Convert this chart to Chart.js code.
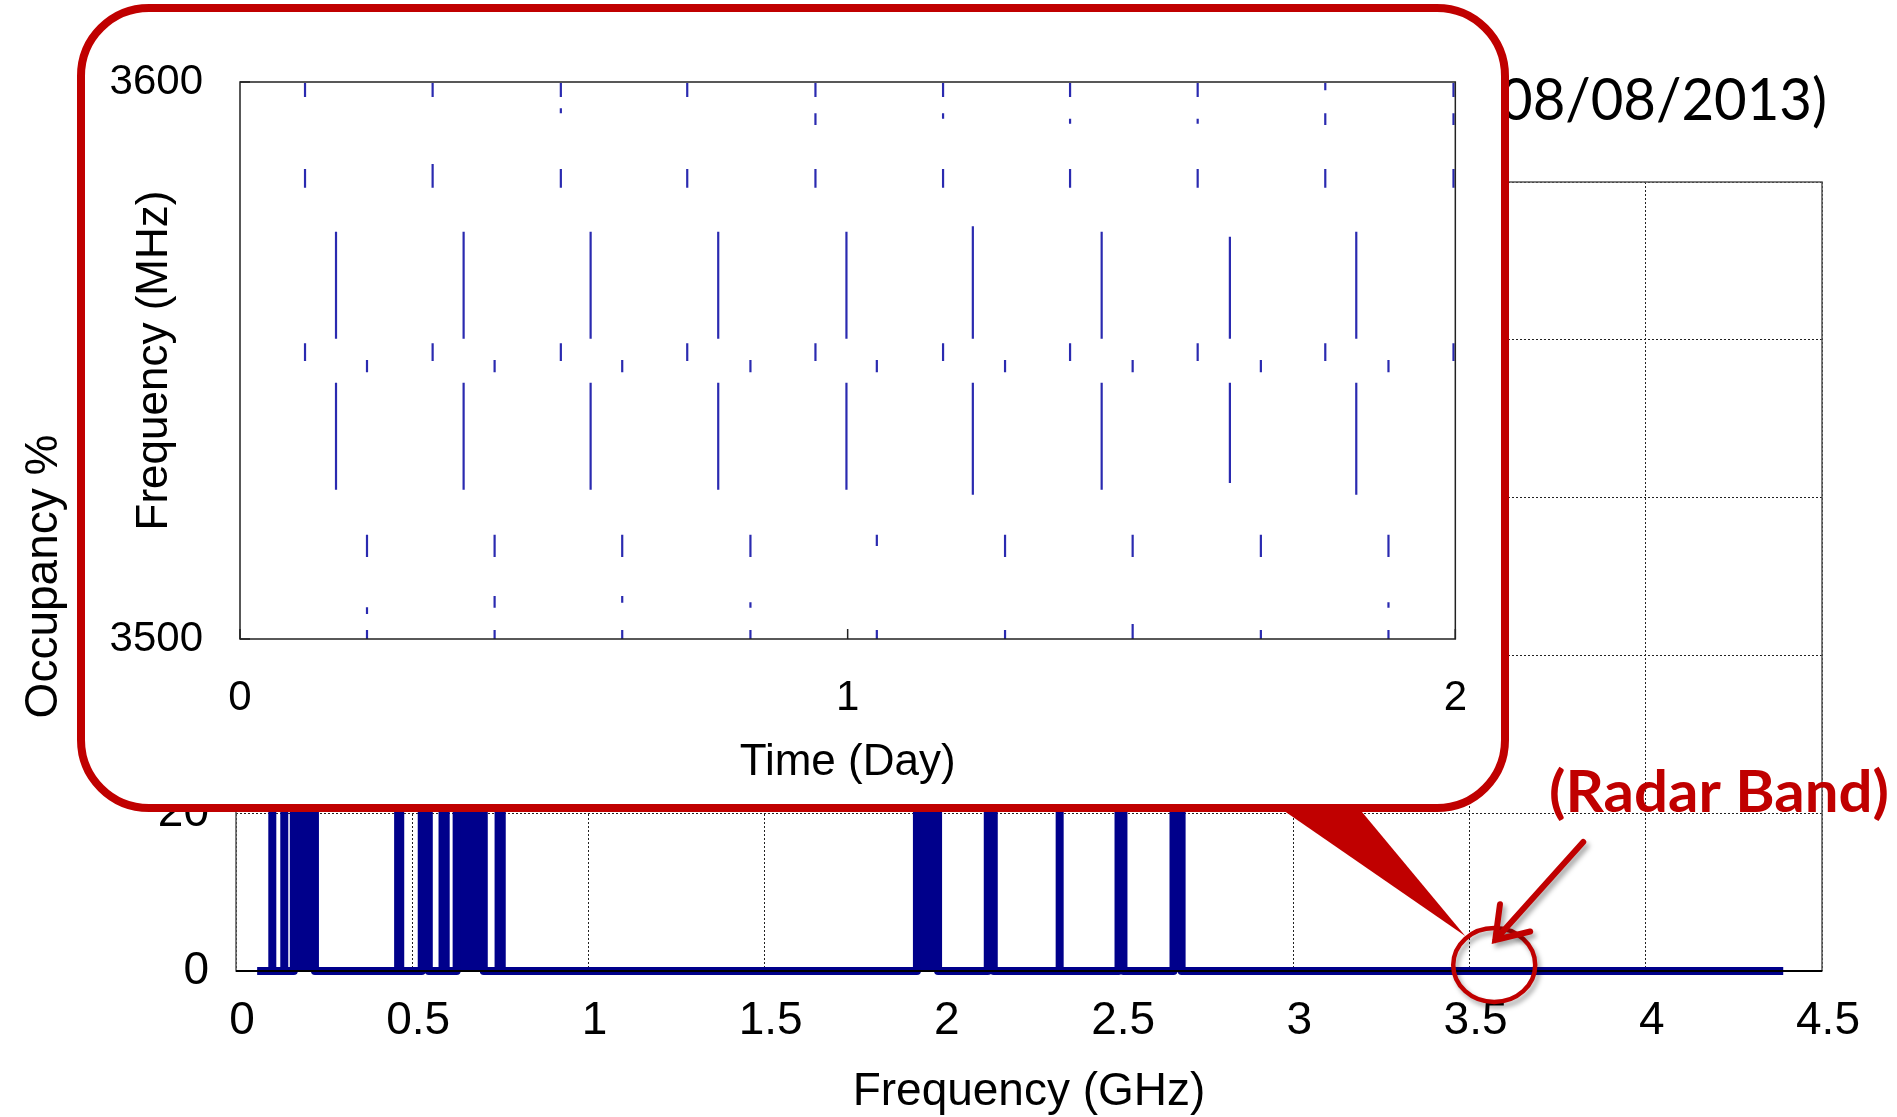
<!DOCTYPE html>
<html>
<head>
<meta charset="utf-8">
<title>Spectrum occupancy - radar band inset</title>
<script src="https://cdn.jsdelivr.net/npm/chart.js@4.4.1/dist/chart.umd.min.js"></script>
<style>
    html, body { margin: 0; padding: 0; background: #fff; overflow: hidden; }
    #main-wrap { position: absolute; left: 0; top: 0; width: 1897px; height: 1117px; }
    #inset-wrap {
        position: absolute; left: 77px; top: 4px; width: 1432px; height: 808px;
        box-sizing: border-box; border: 8px solid #c00000; border-radius: 72px;
        background: #fff; overflow: hidden;
    }
    #inset-inner { position: relative; width: 100%; height: 100%; }
</style>
</head>
<body>
<div id="main-wrap"><canvas id="occupancyChart"></canvas></div>
<div id="inset-wrap"><div id="inset-inner"><canvas id="radarChart"></canvas></div></div>

<script>
// ---------- main plot: occupancy over the scanned range ----------
const scanStartGHz = 0.06;
const scanEndGHz = 4.39;
// occupied bands (start / end in GHz, occupancy in %)
const bandStartGHz  = [0.103, 0.137, 0.164, 0.460, 0.527, 0.586, 0.626, 0.745, 1.932, 2.133, 2.337, 2.504, 2.660];
const bandEndGHz    = [0.103, 0.137, 0.224, 0.466, 0.547, 0.595, 0.703, 0.754, 1.992, 2.150, 2.337, 2.518, 2.683];
const bandOccupancy = [46, 38, 92, 61, 74, 55, 97, 43, 88, 69, 33, 58, 64];
const freqTicks = [0, 0.5, 1, 1.5, 2, 2.5, 3, 3.5, 4, 4.5];
const occupancyTicks = [0, 20, 40, 60, 80, 100];

// ---------- inset: 3500-3600 MHz over two days ----------
const pulseTimesA = [0.107, 0.317, 0.528, 0.736, 0.947, 1.157, 1.366, 1.576, 1.786, 1.997];
const pulseTimesB = [0.158, 0.368, 0.577, 0.787, 0.998, 1.206, 1.418, 1.629, 1.837];
const pulseTimesC = [0.209, 0.419, 0.629, 0.840, 1.048, 1.259, 1.469, 1.680, 1.890];
// [low, high] MHz of each burst, null where nothing was seen
const burstsA1 = [[3597.3, 3599.8], [3597.3, 3599.8], [3597.3, 3599.8], [3597.3, 3599.8], [3597.3, 3599.8],
                  [3597.3, 3599.8], [3597.3, 3599.8], [3597.3, 3599.8], [3598.5, 3599.8], [3597.3, 3599.8]];
const burstsA2 = [null, null, [3594.4, 3595.3], null, [3592.3, 3594.4],
                  [3593.4, 3594.4], [3592.5, 3593.4], [3592.5, 3593.4], [3592.3, 3594.4], [3592.3, 3594.4]];
const burstsA3 = [[3581.0, 3584.4], [3581.0, 3585.3], [3581.0, 3584.4], [3581.0, 3584.4], [3581.0, 3584.4],
                  [3581.0, 3584.4], [3581.0, 3584.4], [3581.0, 3584.4], [3581.0, 3584.4], [3581.0, 3584.4]];
const burstsA4 = [[3549.9, 3553.1], [3549.9, 3553.1], [3549.9, 3553.1], [3549.9, 3553.1], [3549.9, 3553.1],
                  [3549.9, 3553.1], [3549.9, 3553.1], [3549.9, 3553.1], [3549.9, 3553.1], [3549.9, 3553.1]];
const burstsB1 = [[3553.9, 3573.1], [3553.9, 3573.1], [3553.9, 3573.1], [3553.9, 3573.1], [3553.9, 3573.1],
                  [3553.9, 3574.1], [3553.9, 3573.1], [3553.9, 3572.2], [3553.9, 3573.1]];
const burstsB2 = [[3526.8, 3546.0], [3526.8, 3546.0], [3526.8, 3546.0], [3526.8, 3546.0], [3526.8, 3546.0],
                  [3525.9, 3546.0], [3526.8, 3546.0], [3528.0, 3546.0], [3525.9, 3546.0]];
const burstsC1 = [[3547.9, 3550.1], [3547.9, 3550.1], [3547.9, 3550.1], [3547.9, 3550.1], [3547.9, 3550.1],
                  [3547.9, 3550.1], [3547.9, 3550.1], [3547.9, 3550.1], [3547.9, 3550.1]];
const burstsC2 = [[3514.7, 3518.7], [3514.7, 3518.7], [3514.7, 3518.7], [3514.7, 3518.7], [3516.7, 3518.7],
                  [3514.7, 3518.7], [3514.7, 3518.7], [3514.7, 3518.7], [3514.7, 3518.7]];
const burstsC3 = [[3504.5, 3505.7], [3505.6, 3507.7], [3506.5, 3507.7], [3505.6, 3506.6], null,
                  null, null, null, [3505.6, 3506.6]];
const burstsC4 = [[3500.0, 3501.6], [3500.0, 3501.6], [3500.0, 3501.6], [3500.0, 3501.6], [3500.0, 3501.6],
                  [3500.0, 3501.6], [3500.0, 3502.7], [3500.0, 3501.6], [3500.0, 3501.6]];
const dayTicks = [0, 1, 2];
const mhzTicks = [3500, 3600];

const NAVY = '#00008b';
const PULSE_BLUE = '#2a2ab0';
const RED = '#c00000';
const FONT = 'Liberation Sans';

// Build the occupancy trace: flat at 0, stepping up to each band's level
function occupancyTrace() {
    const pts = [{ x: scanStartGHz, y: 0 }];
    bandStartGHz.forEach((f0, i) => {
        const f1 = bandEndGHz[i];
        const h = bandOccupancy[i];
        pts.push({ x: f0, y: 0 }, { x: f0, y: h });
        if (f1 > f0) pts.push({ x: f1, y: h });
        pts.push({ x: f1, y: 0 });
    });
    pts.push({ x: scanEndGHz, y: 0 });
    return pts;
}

// Each burst becomes a short vertical segment; null points break the line
function burstSegments(times, spans) {
    const pts = [];
    times.forEach((t, i) => {
        const s = spans[i];
        if (!s) return;
        pts.push({ x: t, y: s[0] }, { x: t, y: s[1] }, { x: t, y: null });
    });
    return pts;
}

function fixedTicks(values) {
    return scale => { scale.ticks = values.map(v => ({ value: v })); };
}

// Draw text squeezed/stretched so that one part of it has a given width
function drawFitted(ctx, text, fitPart, x, y, width, font, color) {
    ctx.save();
    ctx.font = font;
    const sx = width / ctx.measureText(fitPart).width;
    ctx.translate(x, y);
    ctx.scale(sx, 1);
    ctx.textAlign = 'right';
    ctx.textBaseline = 'alphabetic';
    ctx.fillStyle = color;
    ctx.fillText(text, 0, 0);
    ctx.restore();
}

// Frame, title and the radar band call-out on the main plot
const mainDecor = {
    id: 'mainDecor',
    afterDatasetsDraw(chart) {
        const { ctx, chartArea: a } = chart;
        ctx.save();
        ctx.strokeStyle = '#555';
        ctx.lineWidth = 1.5;
        ctx.strokeRect(a.left, a.top, a.right - a.left, a.bottom - a.top);
        ctx.strokeStyle = '#000';
        ctx.lineWidth = 2;
        ctx.beginPath();
        ctx.moveTo(a.left, a.bottom);
        ctx.lineTo(a.right, a.bottom);
        ctx.stroke();
        ctx.restore();
    },
    afterDraw(chart) {
        const { ctx } = chart;
        const xs = chart.scales.x;
        const ys = chart.scales.y;

        drawFitted(ctx, 'Spectrum Occupancy (08/08/2013)', '08/08/2013)', 1827, 120, 327, '58px Lato', '#000');

        // circle around the radar band
        const cx = xs.getPixelForValue(3.57);
        const cy = ys.getPixelForValue(0) - 6;

        ctx.save();
        ctx.fillStyle = RED;
        ctx.beginPath();
        ctx.moveTo(1277, 806);
        ctx.lineTo(1357, 806);
        ctx.lineTo(cx - 29, cy - 29);
        ctx.closePath();
        ctx.fill();

        ctx.shadowColor = 'rgba(0,0,0,0.35)';
        ctx.shadowBlur = 5;
        ctx.shadowOffsetX = 3;
        ctx.shadowOffsetY = 4;
        ctx.strokeStyle = RED;
        ctx.lineWidth = 4.5;
        ctx.beginPath();
        ctx.ellipse(cx, cy, 41, 37, 0, 0, Math.PI * 2);
        ctx.stroke();

        // arrow from the label to the circle
        const tipX = cx + 1, tipY = cy - 25;
        const startX = cx + 89, startY = cy - 123;
        const ang = Math.atan2(startY - tipY, startX - tipX);
        ctx.lineWidth = 6;
        ctx.lineCap = 'round';
        ctx.beginPath();
        ctx.moveTo(startX, startY);
        ctx.lineTo(tipX, tipY);
        ctx.moveTo(tipX + 36 * Math.cos(ang - 0.6), tipY + 36 * Math.sin(ang - 0.6));
        ctx.lineTo(tipX, tipY);
        ctx.lineTo(tipX + 36 * Math.cos(ang + 0.6), tipY + 36 * Math.sin(ang + 0.6));
        ctx.stroke();
        ctx.restore();

        drawFitted(ctx, '(Radar Band)', '(Radar Band)', 1889, 812, 340, 'bold 57px Lato', RED);
    }
};

new Chart(document.getElementById('occupancyChart'), {
    type: 'line',
    data: {
        datasets: [{
            data: occupancyTrace(),
            borderColor: NAVY,
            backgroundColor: NAVY,
            borderWidth: 8,
            borderJoinStyle: 'round',
            pointRadius: 0,
            fill: 'origin',
            tension: 0,
            clip: false
        }]
    },
    options: {
        animation: false,
        responsive: true,
        maintainAspectRatio: false,
        layout: { padding: { top: 182, right: 75, left: 0, bottom: 0 } },
        plugins: { legend: { display: false }, tooltip: { enabled: false } },
        scales: {
            x: {
                type: 'linear',
                min: 0,
                max: 4.5,
                afterBuildTicks: fixedTicks(freqTicks),
                afterFit: s => { s.height = 146; },
                grid: { color: '#222', lineWidth: 1, drawTicks: false },
                border: { display: false, dash: [2, 2] },
                ticks: {
                    color: '#000', padding: 23, labelOffset: 6, font: { family: FONT, size: 46 },
                    callback: v => String(v)
                },
                title: {
                    display: true, text: 'Frequency (GHz)', color: '#000',
                    padding: { top: 0, bottom: 2 }, font: { family: FONT, size: 46, lineHeight: 1 }
                }
            },
            y: {
                min: 0,
                max: 100,
                afterBuildTicks: fixedTicks(occupancyTicks),
                afterFit: s => { s.width = 236; },
                grid: { color: '#222', lineWidth: 1, drawTicks: false },
                border: { display: false, dash: [2, 2] },
                ticks: { color: '#000', padding: 27, font: { family: FONT, size: 46 } },
                title: {
                    display: true, text: 'Occupancy %', color: '#000',
                    padding: { top: 17, bottom: 0 }, font: { family: FONT, size: 46 }
                }
            }
        }
    },
    plugins: [mainDecor]
});

// Inset frame with inward tick marks
const insetFrame = {
    id: 'insetFrame',
    afterDatasetsDraw(chart) {
        const { ctx, chartArea: a } = chart;
        ctx.save();
        ctx.strokeStyle = '#222';
        ctx.lineWidth = 1.5;
        ctx.strokeRect(a.left, a.top, a.right - a.left, a.bottom - a.top);
        ctx.beginPath();
        chart.scales.x.ticks.forEach(t => {
            const px = chart.scales.x.getPixelForValue(t.value);
            ctx.moveTo(px, a.bottom);
            ctx.lineTo(px, a.bottom - 10);
        });
        chart.scales.y.ticks.forEach(t => {
            const py = chart.scales.y.getPixelForValue(t.value);
            ctx.moveTo(a.left, py);
            ctx.lineTo(a.left + 10, py);
        });
        ctx.stroke();
        ctx.restore();
    }
};

const burstRows = [
    [pulseTimesA, burstsA1], [pulseTimesA, burstsA2], [pulseTimesA, burstsA3], [pulseTimesA, burstsA4],
    [pulseTimesB, burstsB1], [pulseTimesB, burstsB2],
    [pulseTimesC, burstsC1], [pulseTimesC, burstsC2], [pulseTimesC, burstsC3], [pulseTimesC, burstsC4]
];

new Chart(document.getElementById('radarChart'), {
    type: 'line',
    data: {
        datasets: burstRows.map(([times, spans]) => ({
            data: burstSegments(times, spans),
            borderColor: PULSE_BLUE,
            borderWidth: 2.2,
            pointRadius: 0,
            spanGaps: false,
            fill: false
        }))
    },
    options: {
        animation: false,
        responsive: true,
        maintainAspectRatio: false,
        layout: { padding: { top: 70, right: 44, left: 0, bottom: 0 } },
        plugins: { legend: { display: false }, tooltip: { enabled: false } },
        scales: {
            x: {
                type: 'linear',
                min: 0,
                max: 2,
                afterBuildTicks: fixedTicks(dayTicks),
                afterFit: s => { s.height = 165; },
                grid: { display: false, drawTicks: false },
                border: { display: false },
                ticks: {
                    color: '#000', padding: 34, font: { family: FONT, size: 42 },
                    callback: v => String(v)
                },
                title: {
                    display: true, text: 'Time (Day)', color: '#000',
                    padding: { top: 0, bottom: 15 }, font: { family: FONT, size: 44 }
                }
            },
            y: {
                min: 3500,
                max: 3600,
                afterBuildTicks: fixedTicks(mhzTicks),
                afterFit: s => { s.width = 155; },
                grid: { display: false, drawTicks: false },
                border: { display: false },
                ticks: {
                    color: '#000', padding: 37, font: { family: FONT, size: 42 },
                    callback: v => String(v)
                },
                title: {
                    display: true, text: 'Frequency (MHz)', color: '#000',
                    padding: { top: 43, bottom: 0 }, font: { family: FONT, size: 44 }
                }
            }
        }
    },
    plugins: [insetFrame]
});
</script>
</body>
</html>
